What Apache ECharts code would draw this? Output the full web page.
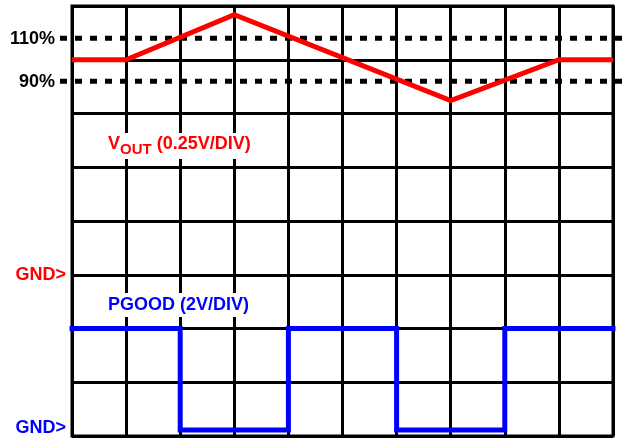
<!DOCTYPE html>
<html>
<head>
<meta charset="utf-8">
<script src="https://cdn.jsdelivr.net/npm/echarts@6/dist/echarts.min.js"></script>
<style>html,body{margin:0;padding:0;background:#fff}#c{width:634px;height:438px}</style>
</head>
<body>
<div id="c"></div>
<script>
// Time in divisions
const voutTime = [0, 1, 3, 7, 9, 10];
// VOUT in volts (0.25 V/DIV, GND at division 3)
const voutVolts = [1.0, 1.0, 1.21, 0.81, 1.0, 1.0];
const voutGndDiv = 3;
const voutScale = 0.25;
const thresholdVolts = [1.1, 0.9];
const thresholdLabels = ['110%', '90%'];
// PGOOD in volts (2 V/DIV, GND at division 0)
const pgoodTime = [0, 2, 2, 4, 4, 6, 6, 8, 8, 10];
const pgoodVolts = [4, 4, 0.22, 0.22, 4, 4, 0.22, 0.22, 4, 4];
const pgoodGndDiv = 0;
const pgoodScale = 2;

const FAMILY = 'Liberation Sans, Arial, sans-serif';
const toVoutDiv = v => voutGndDiv + v / voutScale;
const toPgoodDiv = v => pgoodGndDiv + v / pgoodScale;
const txt = (size, color) => ({fontFamily: FAMILY, fontWeight: 'bold', fontSize: size, fill: color});

const chart = echarts.init(document.getElementById('c'), null, {renderer: 'canvas'});
const gridLine = {show: true, lineStyle: {color: '#000', width: 3, type: 'solid'}};
chart.setOption({
  animation: false,
  backgroundColor: '#fff',
  grid: {left: 72, right: 21, top: 6, bottom: 2, show: true, borderColor: '#000', borderWidth: 3},
  xAxis: {type: 'value', min: 0, max: 10, interval: 1, axisLabel: {show: false}, axisTick: {show: false}, axisLine: {show: false}, splitLine: gridLine},
  yAxis: {type: 'value', min: 0, max: 8, interval: 1, axisLabel: {show: false}, axisTick: {show: false}, axisLine: {show: false}, splitLine: gridLine},
  series: [
    {type: 'line', z: 5, symbol: 'none', data: voutTime.map((t, i) => [t, toVoutDiv(voutVolts[i])]), lineStyle: {color: '#ff0000', width: 5, join: 'miter'}},
    {type: 'line', z: 5, symbol: 'none', data: pgoodTime.map((t, i) => [t, toPgoodDiv(pgoodVolts[i])]), lineStyle: {color: '#0000ff', width: 5, join: 'miter', cap: 'square'}}
  ]
});

const px = (x, y) => chart.convertToPixel({gridIndex: 0}, [x, y]);
const elements = [];
thresholdVolts.forEach((v, i) => {
  const y = px(0, toVoutDiv(v))[1];
  elements.push({type: 'line', z: 1, shape: {x1: 60, y1: y, x2: 629, y2: y}, style: {stroke: '#000', lineWidth: 5, lineDash: [7, 8]}});
  elements.push({type: 'text', z: 20, x: 55, y: y + 1, style: Object.assign(txt(18, '#000'), {text: thresholdLabels[i], align: 'right', verticalAlign: 'middle'})});
});
const gndRed = px(0, voutGndDiv)[1];
elements.push({type: 'text', z: 20, x: 66, y: gndRed, style: Object.assign(txt(18, '#ff0000'), {text: 'GND>', align: 'right', verticalAlign: 'middle'})});
elements.push({type: 'text', z: 20, x: 66, y: px(0, pgoodGndDiv)[1] - 8, style: Object.assign(txt(18, '#0000ff'), {text: 'GND>', align: 'right', verticalAlign: 'middle'})});
elements.push({type: 'text', z: 20, x: 106, y: 133, style: {
  text: '{v|V}{s|OUT}{n| (0.25V/DIV)}',
  backgroundColor: '#fff', padding: [2, 2, 2, 2],
  rich: {
    v: Object.assign(txt(18, '#ff0000'), {lineHeight: 22, verticalAlign: 'top'}),
    s: Object.assign(txt(15, '#ff0000'), {lineHeight: 15, verticalAlign: 'bottom'}),
    n: Object.assign(txt(18, '#ff0000'), {lineHeight: 22, verticalAlign: 'top'})
  }
}});
elements.push({type: 'text', z: 20, x: 106, y: 293, style: Object.assign(txt(18, '#0000ff'), {text: 'PGOOD (2V/DIV)', backgroundColor: '#fff', padding: [3, 2, 3, 2]})});
chart.setOption({graphic: {elements: elements}});
</script>
</body>
</html>
